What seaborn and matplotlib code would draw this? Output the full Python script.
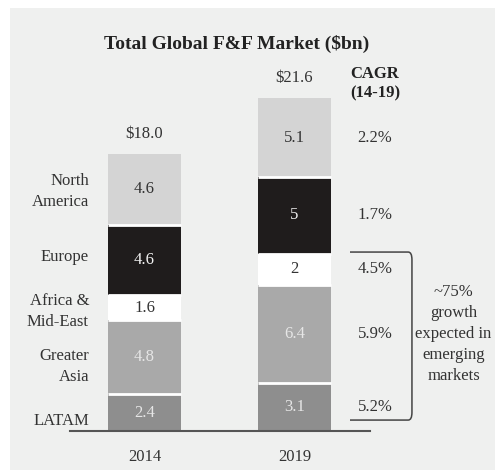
import numpy as np
import pandas as pd
import matplotlib
matplotlib.use('Agg')
import matplotlib.pyplot as plt
import seaborn as sns
from matplotlib.path import Path
from matplotlib.patches import PathPatch, Rectangle

# 데이터 (아래에서 위 순서)
years = ['2014', '2019']
regions = ['LATAM', 'Greater Asia', 'Africa & Mid-East', 'Europe', 'North America']
region_labels = ['LATAM', 'Greater\nAsia', 'Africa &\nMid-East', 'Europe', 'North\nAmerica']
values_2014 = [2.4, 4.8, 1.6, 4.6, 4.6]
values_2019 = [3.1, 6.4, 2.0, 5.0, 5.1]
labels_2014 = ['2.4', '4.8', '1.6', '4.6', '4.6']
labels_2019 = ['3.1', '6.4', '2', '5', '5.1']
totals = ['$18.0', '$21.6']
cagr = ['5.2%', '5.9%', '4.5%', '1.7%', '2.2%']

seg_colors = ['#8e8e8e', '#a9a9a9', '#ffffff', '#1f1c1c', '#d4d4d4']
txt_colors = ['#e6e6e6', '#e6e6e6', '#333333', '#f2f2f2', '#333333']
label_shift = [-0.55, -0.6, -0.25, 0.2, -0.15]  # 왼쪽 라벨 위치 미세 조정
FS = 12
BAR_W = 0.487

sns.set_theme(style='white')
plt.rcParams['font.family'] = ['Liberation Serif', 'DejaVu Serif']

df = pd.DataFrame({'year': years * len(regions),
                   'region': np.repeat(regions, 2),
                   'value': [v for pair in zip(values_2014, values_2019) for v in pair]})
df['cum'] = df.groupby('year')['value'].cumsum()

fig = plt.figure(figsize=(4.95, 4.7), dpi=100)
fig.patch.set_facecolor('white')
fig.patches.append(Rectangle((10 / 495, 0), 1, 462 / 470, transform=fig.transFigure,
                             facecolor='#eff0ef', edgecolor='none', zorder=-10))
ax = fig.add_axes([69.5 / 495, 39 / 470, 300 / 495, 369.6 / 470])
ax.set_facecolor('none')

# 누적 막대: 위 구간부터 그려서 아래 구간이 앞에 오도록
for i in reversed(range(len(regions))):
    sub = df[df['region'] == regions[i]]
    sns.barplot(data=sub, x='year', y='cum', order=years, color=seg_colors[i],
                saturation=1, width=BAR_W, edgecolor='none', linewidth=0, ax=ax)

# 구간 사이 흰 구분선
for j, yr in enumerate(years):
    cums = df[df['year'] == yr]['cum'].values[:-1]
    ax.hlines(cums, j - BAR_W / 2, j + BAR_W / 2, color='white', linewidth=2, zorder=3)

ax.set_xlim(-0.5, 1.5)
ax.set_ylim(0, 24)
ax.set_xlabel('')
ax.set_ylabel('')
ax.set_yticks([])
for s in ['left', 'top', 'right']:
    ax.spines[s].set_visible(False)
ax.spines['bottom'].set_color('#555555')
ax.spines['bottom'].set_linewidth(1.5)
ax.tick_params(axis='x', length=0, pad=13, labelsize=FS, labelcolor='#333333')

# 구간 값 라벨
for j, (vals, labs) in enumerate([(values_2014, labels_2014), (values_2019, labels_2019)]):
    base = 0
    for i, v in enumerate(vals):
        ax.text(j, base + v / 2, labs[i], ha='center', va='center',
                fontsize=FS, color=txt_colors[i], zorder=4)
        base += v
    ax.text(j, base + 1.3, totals[j], ha='center', va='center', fontsize=FS, color='#333333')

# 지역 라벨 (왼쪽)
base = 0
for i, v in enumerate(values_2014):
    ax.text(-0.37, base + v / 2 + label_shift[i], region_labels[i], ha='right', va='center',
            fontsize=FS, color='#333333', linespacing=1.4)
    base += v

# CAGR
base = 0
for i, v in enumerate(values_2019):
    ax.text(1.537, base + v / 2, cagr[i], ha='center', va='center', fontsize=FS,
            color='#333333', clip_on=False)
    base += v
ax.text(1.537, 22.55, 'CAGR\n(14-19)', ha='center', va='center', fontsize=FS,
        fontweight='bold', color='#222222', linespacing=1.3, clip_on=False)

# 괄호
x0, x1, r = 1.37, 1.783, 0.025
y_top, y_bot = 11.62, 0.71
verts = [(x0, y_top), (x1 - r, y_top), (x1, y_top), (x1, y_top - 0.5),
         (x1, y_bot + 0.5), (x1, y_bot), (x1 - r, y_bot), (x0, y_bot)]
codes = [Path.MOVETO, Path.LINETO, Path.CURVE3, Path.CURVE3,
         Path.LINETO, Path.CURVE3, Path.CURVE3, Path.LINETO]
ax.add_patch(PathPatch(Path(verts, codes), facecolor='none', edgecolor='#444444',
                       linewidth=1.1, clip_on=False))
ax.text(2.06, 6.3, '~75%\ngrowth\nexpected in\nemerging\nmarkets', ha='center', va='center',
        fontsize=FS, color='#333333', linespacing=1.4, clip_on=False)

fig.text(237 / 495, 1 - 44 / 470, 'Total Global F&F Market ($bn)', ha='center', va='center',
         fontsize=14, fontweight='bold', color='#222222')

fig.savefig('out.png', dpi=100)
